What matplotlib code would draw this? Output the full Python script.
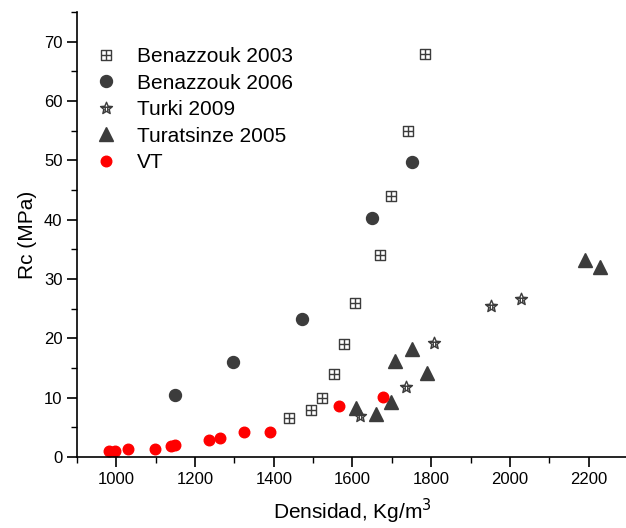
import numpy as np
import matplotlib.pyplot as plt
from matplotlib.path import Path
from matplotlib.ticker import MultipleLocator

plt.rcParams['font.family'] = ['Liberation Sans', 'DejaVu Sans']

# Compressive strength vs density, literature data and VT samples
benazzouk03_x = [1438, 1494, 1522, 1553, 1578, 1606, 1671, 1697, 1740, 1785]
benazzouk03_y = [6.5, 8.0, 10.0, 14.0, 19.0, 26.0, 34.0, 44.0, 55.0, 68.0]

benazzouk06_x = [1150, 1296, 1472, 1649, 1751]
benazzouk06_y = [10.5, 16.0, 23.3, 40.2, 49.7]

turki_x = [1620, 1735, 1806, 1952, 2027]
turki_y = [6.9, 11.8, 19.2, 25.4, 26.6]

turatsinze_x = [1610, 1659, 1699, 1709, 1750, 1789, 2190, 2229]
turatsinze_y = [8.2, 7.2, 9.2, 16.2, 18.2, 14.2, 33.2, 32.1]

vt_x = [982, 996, 1029, 1097, 1140, 1149, 1235, 1264, 1325, 1390, 1565, 1677]
vt_y = [1.06, 1.06, 1.4, 1.3, 1.85, 1.97, 2.87, 3.2, 4.16, 4.2, 8.6, 10.1]

dark = '#3c3c3c'

# square with a cross inside
sq_verts = [(-1, -1), (1, -1), (1, 1), (-1, 1), (-1, -1),
            (-1, 0), (1, 0), (0, -1), (0, 1)]
sq_codes = [Path.MOVETO, Path.LINETO, Path.LINETO, Path.LINETO, Path.CLOSEPOLY,
            Path.MOVETO, Path.LINETO, Path.MOVETO, Path.LINETO]
square_plus = Path(sq_verts, sq_codes)

# star outline with inner lines
ang = np.pi / 2 + np.arange(10) * np.pi / 5
rad = np.where(np.arange(10) % 2 == 0, 1.0, 0.45)
star_pts = list(zip(rad * np.cos(ang), rad * np.sin(ang)))
st_verts = star_pts + [star_pts[0], (-0.75, 0.2), (0.75, 0.2),
                       (-0.2, 0.2), (-0.2, -0.55), (0.2, 0.2), (0.2, -0.55)]
st_codes = [Path.MOVETO] + [Path.LINETO] * 9 + [Path.CLOSEPOLY,
            Path.MOVETO, Path.LINETO, Path.MOVETO, Path.LINETO,
            Path.MOVETO, Path.LINETO]
star_lines = Path(st_verts, st_codes)

fig = plt.figure(figsize=(6.26, 5.28), dpi=100)
ax = fig.add_axes([77 / 626, 71 / 528, 551 / 626, 445 / 528])

ax.plot(benazzouk03_x, benazzouk03_y, ls='none', marker=square_plus, ms=7.2,
        mfc='white', mec=dark, mew=1.0, label='Benazzouk 2003')
ax.plot(benazzouk06_x, benazzouk06_y, ls='none', marker='o', ms=8.6,
        color=dark, label='Benazzouk 2006')
ax.plot(turki_x, turki_y, ls='none', marker=star_lines, ms=9,
        mfc='none', mec=dark, mew=1.0, label='Turki 2009')
ax.plot(turatsinze_x, turatsinze_y, ls='none', marker='^', ms=9.6,
        color=dark, label='Turatsinze 2005')
ax.plot(vt_x, vt_y, ls='none', marker='o', ms=7.6, color='#ff0000', label='VT')

ax.set_xlim(900, 2300)
ax.set_ylim(0, 75)
ax.xaxis.set_major_locator(MultipleLocator(200))
ax.xaxis.set_minor_locator(MultipleLocator(100))
ax.yaxis.set_major_locator(MultipleLocator(10))
ax.yaxis.set_minor_locator(MultipleLocator(5))

for side in ['top', 'right']:
    ax.spines[side].set_visible(False)
for side in ['left', 'bottom']:
    ax.spines[side].set_linewidth(1.2)
ax.tick_params(which='major', direction='out', length=7, width=1.2, labelsize=12)
ax.tick_params(which='minor', direction='out', length=4, width=1.0)

ax.set_xlabel('Densidad, Kg/m$^3$', fontsize=15, labelpad=7)
ax.set_ylabel('Rc (MPa)', fontsize=15, labelpad=5)

ax.legend(loc='upper left', bbox_to_anchor=(0.033, 0.921), frameon=False,
          fontsize=15, handlelength=1.0, handletextpad=1.0,
          labelspacing=0.36, borderpad=0, borderaxespad=0)

fig.savefig('out.png', dpi=100)
